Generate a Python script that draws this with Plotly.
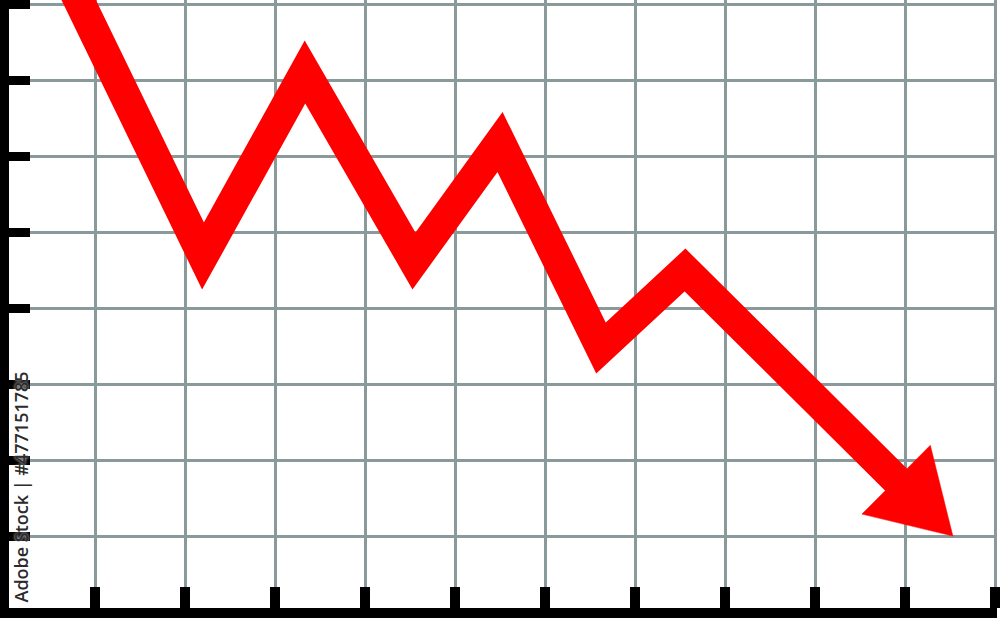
import math
import plotly.graph_objects as go

# Zigzag path (data units: x = grid columns, y = grid rows)
path_x = [0.711, 2.2, 3.333, 4.544, 5.5, 6.622, 7.556, 9.933]
path_y = [8.315, 4.69, 7.107, 4.624, 6.187, 3.481, 4.506, 1.714]

x_ticks = list(range(1, 12))
y_ticks = list(range(1, 9))

RED = "#ff0000"
GRID = "#8a9999"

# layout geometry
W, H = 1000, 618
ML, MR, MT, MB = 9, 3, 0, 10
x_range = [(9 - 5) / 90, (997 - 5) / 90]
y_range = [5 / 76.125, 613 / 76.125]
sx = (W - ML - MR) / (x_range[1] - x_range[0])   # px per x unit
sy = (H - MT - MB) / (y_range[1] - y_range[0])   # px per y unit

# arrowhead derived from the last path segment (head length/width in px)
HEAD_LEN, HEAD_W, OVERLAP = 80, 97, 4
dxp = (path_x[-1] - path_x[-2]) * sx
dyp = (path_y[-1] - path_y[-2]) * sy
n = math.hypot(dxp, dyp)
ux, uy = dxp / n, dyp / n
px_, py_ = -uy, ux
bx = path_x[-1] - OVERLAP * ux / sx
by = path_y[-1] - OVERLAP * uy / sy
head_x = [bx + HEAD_W / 2 * px_ / sx, bx + HEAD_LEN * ux / sx,
          bx - HEAD_W / 2 * px_ / sx, bx + HEAD_W / 2 * px_ / sx]
head_y = [by + HEAD_W / 2 * py_ / sy, by + HEAD_LEN * uy / sy,
          by - HEAD_W / 2 * py_ / sy, by + HEAD_W / 2 * py_ / sy]

fig = go.Figure()
fig.add_trace(go.Scatter(
    x=path_x, y=path_y,
    mode="lines",
    line=dict(color=RED, width=31),
    cliponaxis=True,
    hoverinfo="skip",
    showlegend=False,
))
fig.add_trace(go.Scatter(
    x=head_x, y=head_y,
    mode="lines", fill="toself", fillcolor=RED,
    line=dict(color=RED, width=0.5),
    hoverinfo="skip",
    showlegend=False,
))

fig.add_annotation(
    text="Adobe Stock | #477151785",
    xref="paper", yref="paper",
    x=0.0, y=0.0,
    xanchor="left", yanchor="bottom",
    xshift=-3, yshift=3,
    textangle=-90,
    showarrow=False,
    font=dict(family="Open Sans, DejaVu Sans, sans-serif", size=18,
              color="#2b2b2b", weight=600, shadow="0px 0px 3px white"),
)

fig.update_xaxes(
    range=x_range,
    tickvals=x_ticks, showticklabels=False,
    showgrid=True, gridcolor=GRID, gridwidth=3,
    zeroline=False,
    showline=True, linecolor="black", linewidth=10,
    ticks="inside", ticklen=21, tickwidth=10, tickcolor="black",
    fixedrange=True,
)
fig.update_yaxes(
    range=y_range,
    tickvals=y_ticks, showticklabels=False,
    showgrid=True, gridcolor=GRID, gridwidth=3,
    zeroline=False,
    showline=True, linecolor="black", linewidth=9,
    ticks="inside", ticklen=21, tickwidth=9, tickcolor="black",
    fixedrange=True,
)

fig.update_layout(
    width=W, height=H,
    margin=dict(l=ML, r=MR, t=MT, b=MB, pad=0),
    paper_bgcolor="white", plot_bgcolor="white",
    showlegend=False,
)

post = (
    "document.body.style.margin='0';"
    "document.querySelectorAll('.js-line').forEach(function(e){"
    "e.style.strokeMiterlimit='10';e.style.strokeLinejoin='miter';});"
)

fig.write_html("out.html", config={"displayModeBar": False}, post_script=post)
